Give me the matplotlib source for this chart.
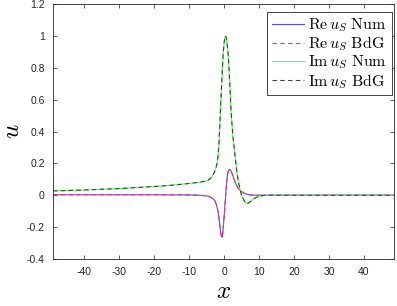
import numpy as np
import matplotlib
matplotlib.use("Agg")
import matplotlib.pyplot as plt

plt.rcParams['mathtext.fontset'] = 'cm'

# values
x_re = [-49, -30, -20, -10, -7, -5, -4.5, -4, -3.5, -3, -2.75, -2.5, -2.25, -2, -1.75,
        -1.5, -1.25, -1.0, -0.75, -0.6, -0.45, -0.25, 0, 0.2, 0.4, 0.6, 0.8, 1.0, 1.25,
        1.5, 1.75, 2.0, 2.25, 2.5, 2.75, 3.0, 3.5, 4.0, 4.5, 5.0, 5.5, 6.0, 7.0, 8.0,
        10, 15, 20, 30, 40, 49]
re_u = [0.003, 0.003, 0.003, 0.002, 0.0, -0.004, -0.007, -0.011, -0.017, -0.025, -0.032,
        -0.042, -0.058, -0.078, -0.105, -0.14, -0.19, -0.235, -0.26, -0.263, -0.247,
        -0.2, -0.13, -0.07, -0.01, 0.05, 0.10, 0.135, 0.155, 0.162, 0.16, 0.15, 0.137,
        0.122, 0.105, 0.09, 0.064, 0.045, 0.031, 0.022, 0.015, 0.01, 0.004, 0.001,
        0.0, 0.0, 0.0, 0.0, 0.0, 0.0]

x_im = [-49, -40, -30, -20, -15, -10, -7, -5, -4.5, -4, -3.5, -3, -2.75, -2.5, -2.25,
        -2, -1.75, -1.5, -1.25, -1.0, -0.75, -0.5, -0.25, 0, 0.2, 0.4, 0.6, 0.8, 1.0,
        1.25, 1.5, 1.75, 2.0, 2.25, 2.5, 2.75, 3.0, 3.25, 3.5, 3.75, 4.0, 4.25, 4.5,
        4.75, 5.0, 5.5, 6.0, 6.5, 7.0, 7.5, 8.0, 9.0, 10, 11, 12, 15, 20, 30, 40, 49]
im_u = [0.027, 0.033, 0.042, 0.055, 0.063, 0.074, 0.082, 0.090, 0.096, 0.104, 0.116,
        0.135, 0.147, 0.162, 0.18, 0.205, 0.245, 0.32, 0.44, 0.57, 0.68, 0.80, 0.90,
        0.96, 0.99, 1.0, 0.99, 0.96, 0.92, 0.85, 0.74, 0.63, 0.52, 0.44, 0.37, 0.32,
        0.27, 0.22, 0.17, 0.13, 0.095, 0.065, 0.04, 0.018, 0.0, -0.025, -0.045, -0.052,
        -0.048, -0.04, -0.03, -0.015, -0.006, -0.002, 0.0, 0.0, 0.0, 0.0, 0.0, 0.0]

labels = [r'$\mathrm{Re}\,u_S\ \mathrm{Num}$', r'$\mathrm{Re}\,u_S\ \mathrm{BdG}$',
          r'$\mathrm{Im}\,u_S\ \mathrm{Num}$', r'$\mathrm{Im}\,u_S\ \mathrm{BdG}$']
xticks = [-40, -30, -20, -10, 0, 10, 20, 30, 40]
yticks = [-0.4, -0.2, 0, 0.2, 0.4, 0.6, 0.8, 1, 1.2]
ytick_labels = ['-0.4', '-0.2', '0', '0.2', '0.4', '0.6', '0.8', '1', '1.2']

fig = plt.figure(figsize=(3.97, 3.06), dpi=100)
ax = fig.add_axes([0.1335, 0.1536, 0.8597, 0.8333])

ax.plot(x_re, re_u, color=(0.3, 0.3, 1.0), lw=0.8, label=labels[0])
ax.plot(x_re, re_u, color=(1.0, 0.2, 0.3), lw=0.8, ls=(0, (4, 3)), label=labels[1])
ax.plot(x_im, im_u, color=(0.3, 1.0, 0.3), lw=0.8, label=labels[2])
ax.plot(x_im, im_u, color=(0.25, 0.25, 0.25), lw=0.8, ls=(0, (4, 3)), label=labels[3])

ax.set_xlim(-49, 48.7)
ax.set_ylim(-0.4, 1.2)
ax.set_xticks(xticks)
ax.set_yticks(yticks)
ax.set_xticklabels([str(t) for t in xticks])
ax.set_yticklabels(ytick_labels)

ax.tick_params(direction='in', length=3, width=0.5, top=True, right=True,
               labelsize=7.5, colors=(0.15, 0.15, 0.15), pad=6)
for lab in ax.get_xticklabels() + ax.get_yticklabels():
    lab.set_family('Liberation Sans')
for sp in ax.spines.values():
    sp.set_linewidth(0.6)
    sp.set_color((0.15, 0.15, 0.15))

ax.set_xlabel(r'$x$', fontsize=18, va='center')
ax.set_ylabel(r'$u$', fontsize=18, va='center')
ax.xaxis.set_label_coords(0.5, -0.125)
ax.yaxis.set_label_coords(-0.12, 0.5)

leg = ax.legend(loc='upper right', bbox_to_anchor=(0.992, 0.969), borderaxespad=0,
                fontsize=11.5, handlelength=2.0, labelspacing=0.02, borderpad=0.3,
                handletextpad=0.25, fancybox=False, framealpha=1)
leg.get_frame().set_edgecolor((0.15, 0.15, 0.15))
leg.get_frame().set_linewidth(0.6)

fig.savefig('out.png', dpi=100)
